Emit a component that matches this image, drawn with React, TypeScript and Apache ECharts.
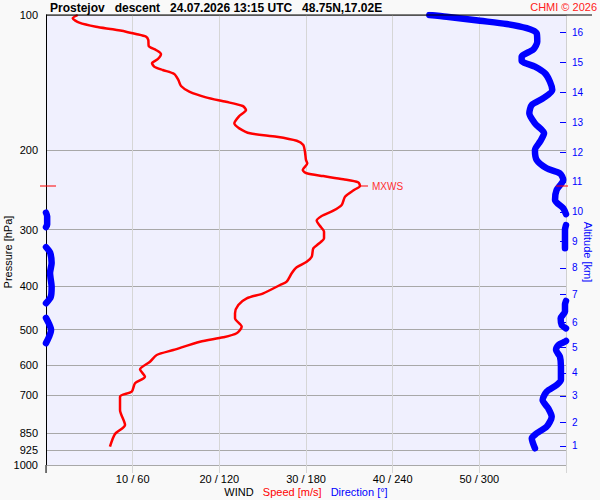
import React, { useEffect, useRef } from "react";
import * as echarts from "echarts";

// ---- Axis ticks ----
const pressureTicks = [100, 200, 300, 400, 500, 600, 700, 850, 925, 1000];
const altitudeTicksKm = [1, 2, 3, 4, 5, 6, 7, 8, 9, 10, 11, 12, 13, 14, 15, 16];
const altitudeTickPressure = [907, 802.6, 702.5, 624.5, 546.8, 481.1, 416.9, 364.9, 317.9, 274.0, 235.0, 201.6, 172.9, 148.3, 127.2, 109.1];
const speedTickMax = 60;
const directionTickMax = 360;

// ---- Wind speed profile (hPa, m/s) ----
const speedPressure = [
  100, 101.7, 104.0, 106.2, 107.6, 108.9, 110.2, 111.7, 113.6, 117.2, 119.6, 122.1, 125.4, 128.0, 130.3, 132.5,
  135.2, 139.4, 143.8, 148.0, 152.4, 155.9, 159.3, 162.6, 167.7, 174.1, 178.6, 183.2, 186.4, 190.3, 194.5, 201.3,
  210.0, 213.6, 221.1, 224.8, 228.0, 231.8, 235.4, 239.9, 244.8, 253.4, 264.4, 272.2, 279.7, 286.5, 294.4, 303.1,
  313.5, 322.8, 330.0, 344.5, 353.4, 363.7, 375.0, 391.5, 398.1, 415.4, 426.1, 441.0, 460.1, 472.1, 492.8, 509.7,
  520.3, 532.1, 555.2, 569.6, 589.5, 612.9, 636.5, 658.3, 687.2, 705.0, 754.6, 814.9, 853.3, 910.7,
];
const speedValues = [
  3.66, 3.08, 3.84, 5.77, 7.7, 9.23, 10.38, 11.54, 11.8, 11.85, 12.69, 13.27, 12.89, 12.23, 12.5, 13.47,
  14.8, 15.27, 15.58, 16.53, 18.46, 20.77, 22.7, 23.08, 22.3, 21.73, 22.3, 23.54, 26.62, 28.93, 29.69, 29.88,
  30.0, 30.15, 29.62, 30.08, 31.99, 34.3, 36.03, 36.23, 35.54, 34.5, 34.12, 33.15, 31.81, 31.23, 31.62, 32.08,
  32.08, 31.42, 30.84, 30.66, 30.08, 28.93, 28.35, 27.77, 27.0, 25.07, 23.16, 22.19, 21.81, 21.81, 22.58, 22.0,
  20.46, 17.77, 14.69, 12.77, 12.0, 10.85, 11.42, 10.27, 9.89, 8.54, 8.54, 9.12, 7.96, 7.38,
];

// ---- Wind direction profile, split where it wraps 360/0 ([deg, hPa]) ----
const directionSegmentA = [
  [265.4, 100], [277.4, 100.9], [300.5, 103.0], [318.9, 104.7], [332.8, 107.0], [339.7, 109.8], [340.1, 114.6],
  [337.4, 119.2], [329.3, 123.8], [329.3, 126.4], [338.5, 130.3], [345.5, 134.8], [348.9, 140.7], [350.5, 146.8],
  [344.3, 153.1], [336.3, 158.5], [334.6, 165.4], [338.5, 174.1], [344.8, 183.2], [342.0, 191.2], [338.5, 199.5],
  [339.7, 210.0], [346.6, 219.1], [355.8, 224.8], [358.1, 232.6], [353.5, 244.8], [352.4, 257.6], [358.1, 268.9],
  [360, 277],
];
const directionSegmentB = [[0, 275], [0.8, 280], [0.8, 292], [0, 296]];
const directionSegmentC = [[360, 293], [359.3, 300], [359.3, 320], [359.3, 330]];
const directionSegmentD = [[0, 328], [2.8, 337], [3.9, 355.7], [2.8, 374.5], [3.9, 402], [3.3, 423], [0, 437]];
const directionSegmentE = [[360, 432], [359.3, 440], [359.3, 456.4], [356.3, 472.1], [357.0, 488.5], [360, 497]];
const directionSegmentF = [[0, 471], [2, 485], [3.5, 501], [2, 520], [0, 536]];
const directionSegmentG = [
  [360, 530], [359.3, 532.1], [354.7, 541.2], [353.1, 555.2], [355.8, 574.5], [356.5, 604.7], [356.5, 647.3],
  [353.5, 664.1], [346.6, 687.2], [343.8, 717.2], [347.7, 748.2], [350.1, 781.1], [346.6, 822.0], [339.7, 850.3],
  [336.3, 872.3], [338.5, 918.2],
];
const directionSegments = [
  directionSegmentA, directionSegmentB, directionSegmentC, directionSegmentD,
  directionSegmentE, directionSegmentF, directionSegmentG,
];

const FONT = "'Liberation Sans', Arial, Helvetica, sans-serif";
const RED = "#ff0000";
const BLUE = "#0000ff";
const lg = (p: number) => Math.log10(p);

export default function App() {
  const ref = useRef<HTMLDivElement>(null);

  useEffect(() => {
    if (!ref.current) return;
    const chart = echarts.init(ref.current, undefined, { renderer: "svg" });

    const pLog = pressureTicks.map(lg);
    const aLog = altitudeTickPressure.map(lg);
    const altLabel = (v: number) => {
      let best = 0;
      aLog.forEach((a, i) => {
        if (Math.abs(a - v) < Math.abs(aLog[best] - v)) best = i;
      });
      return String(altitudeTicksKm[best]);
    };

    const speedData = speedValues.map((s, i) => [s, lg(speedPressure[i])]);
    let maxIdx = 0;
    speedValues.forEach((s, i) => {
      if (s > speedValues[maxIdx]) maxIdx = i;
    });

    const series: any[] = [
      {
        type: "line",
        xAxisIndex: 0,
        yAxisIndex: 0,
        data: speedData,
        showSymbol: false,
        smooth: 0.25,
        lineStyle: { color: RED, width: 2.5 },
        z: 4,
      },
      ...directionSegments.map((seg) => ({
        type: "line",
        xAxisIndex: 1,
        yAxisIndex: 0,
        data: seg.map(([d, p]) => [d, lg(p)]),
        showSymbol: false,
        smooth: 0.25,
        lineStyle: { color: BLUE, width: 6.5, cap: "round", join: "round" },
        z: 3,
      })),
    ];

    chart.setOption({
      animation: false,
      backgroundColor: "#f9f9f9",
      textStyle: { fontFamily: FONT },
      grid: {
        left: 46,
        right: 34,
        top: 15,
        bottom: 35,
        show: true,
        backgroundColor: "#f0f0fe",
        borderWidth: 0,
      },
      xAxis: [
        {
          type: "value",
          min: 0,
          max: speedTickMax,
          interval: 10,
          axisLine: { show: false },
          axisTick: { show: true, length: 8, lineStyle: { color: "#d6d6d6" } },
          axisLabel: {
            color: "#000",
            fontSize: 11,
            fontFamily: FONT,
            margin: 8,
            formatter: (v: number) => (v > 0 && v < speedTickMax ? `${v} / ${v * 6}` : ""),
          },
          splitLine: { show: true, lineStyle: { color: "#d6d6d6", width: 1 } },
        },
        { type: "value", min: 0, max: directionTickMax, show: false },
      ],
      yAxis: [
        {
          type: "value",
          min: 2,
          max: 3,
          inverse: true,
          position: "left",
          axisLine: { show: true, onZero: false, lineStyle: { color: "#000", width: 1 } },
          axisTick: { show: false, customValues: pLog },
          axisLabel: {
            customValues: pLog,
            formatter: (v: number) => String(Math.round(Math.pow(10, v))),
            color: "#000",
            fontSize: 11,
            fontFamily: FONT,
            margin: 8,
          },
          splitLine: { show: true, lineStyle: { color: "#a8a8a8", width: 1 } },
        },
        {
          type: "value",
          min: 2,
          max: 3,
          inverse: true,
          position: "right",
          axisLine: { show: true, onZero: false, lineStyle: { color: "#d0d0d0", width: 1 } },
          axisTick: { show: true, inside: true, length: 6, customValues: aLog, lineStyle: { color: BLUE, width: 1 } },
          axisLabel: {
            customValues: aLog,
            formatter: altLabel,
            color: BLUE,
            fontSize: 10,
            fontFamily: FONT,
            margin: 6,
          },
          splitLine: { show: false },
        },
      ],
      series,
    });

    const [mx, my] = chart.convertToPixel({ gridIndex: 0 }, speedData[maxIdx]) as number[];
    const [gl, gt] = chart.convertToPixel({ gridIndex: 0 }, [0, 2]) as number[];
    const [gr, gb] = chart.convertToPixel({ gridIndex: 0 }, [speedTickMax, 3]) as number[];

    chart.setOption({
      graphic: [
        {
          type: "text",
          left: 50,
          top: 2,
          style: {
            text: "Prostejov   descent   24.07.2026 13:15 UTC   48.75N,17.02E",
            font: `bold 12px ${FONT}`,
            fill: "#000",
          },
        },
        {
          type: "text",
          x: 597,
          y: 7,
          style: { text: "CHMI © 2026", font: `11px ${FONT}`, fill: "#ff2020", align: "right", verticalAlign: "middle" },
        },
        { type: "line", shape: { x1: gl, y1: gt, x2: 592, y2: gt }, style: { stroke: "#000", lineWidth: 1 }, z: 10 },
        { type: "line", shape: { x1: gl, y1: gb, x2: gl, y2: gb + 8 }, style: { stroke: "#000", lineWidth: 1 }, z: 10 },
        {
          type: "text",
          x: 8,
          y: 252,
          rotation: Math.PI / 2,
          style: { text: "Pressure [hPa]", font: `11px ${FONT}`, fill: "#000", align: "center", verticalAlign: "middle" },
        },
        {
          type: "text",
          x: 588,
          y: 252,
          rotation: -Math.PI / 2,
          style: { text: "Altitude [km]", font: `11px ${FONT}`, fill: BLUE, align: "center", verticalAlign: "middle" },
        },
        {
          type: "text",
          x: 306,
          y: 492,
          style: {
            text: "{k|WIND}   {r|Speed [m/s]}   {b|Direction [°]}",
            align: "center",
            verticalAlign: "middle",
            rich: {
              k: { fill: "#000", font: `11px ${FONT}` },
              r: { fill: RED, font: `11px ${FONT}` },
              b: { fill: BLUE, font: `11px ${FONT}` },
            },
            font: `11px ${FONT}`,
          },
        },
        // MXWS markers
        { type: "line", shape: { x1: gl - 6, y1: my, x2: gl + 10, y2: my }, style: { stroke: RED, lineWidth: 1 }, z: 10 },
        { type: "line", shape: { x1: gr - 10, y1: my, x2: gr + 2, y2: my }, style: { stroke: RED, lineWidth: 1 }, z: 10 },
        { type: "line", shape: { x1: mx, y1: my, x2: mx + 8, y2: my }, style: { stroke: RED, lineWidth: 1 }, z: 10 },
        {
          type: "text",
          x: mx + 12,
          y: my,
          style: { text: "MXWS", font: `10px ${FONT}`, fill: "#ff3030", verticalAlign: "middle" },
          z: 10,
        },
      ],
    });

    return () => chart.dispose();
  }, []);

  return <div ref={ref} style={{ position: "absolute", left: 0, top: 0, width: 600, height: 500 }} />;
}
